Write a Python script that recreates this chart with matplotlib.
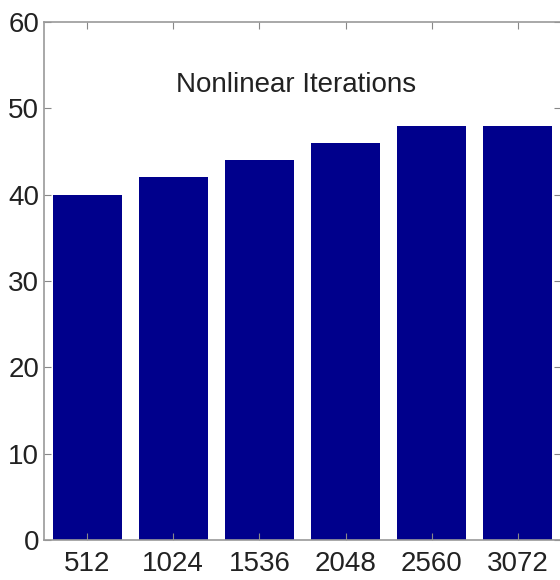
import matplotlib
matplotlib.use("Agg")
import matplotlib.pyplot as plt

categories = ["512", "1024", "1536", "2048", "2560", "3072"]
iterations = [40, 42, 44, 46, 48, 48]
yticks = [0, 10, 20, 30, 40, 50, 60]
title = "Nonlinear Iterations"

plt.rcParams["font.family"] = ["Liberation Sans"]

fig = plt.figure(figsize=(5.6, 5.8), dpi=100)
ax = fig.add_axes([44 / 560, 40 / 580, 517 / 560, 518 / 580])
x = list(range(1, len(categories) + 1))
ax.bar(x, iterations, width=0.8, color="#00008C")
ax.set_xlim(0.5, len(categories) + 0.5)
ax.set_ylim(0, 60)
ax.set_xticks(x)
ax.set_xticklabels(categories)
ax.set_yticks(yticks)
ax.tick_params(direction="in", length=5, color="#888888", labelsize=20,
               top=True, right=True, labelcolor="#222222")
ax.tick_params(axis="x", pad=8)
for s in ax.spines.values():
    s.set_color("#999999")
    s.set_linewidth(1.2)
ax.text(3.42, 52.7, title, ha="center", va="center", fontsize=20, color="#222222")
fig.savefig("out.png", dpi=100)
